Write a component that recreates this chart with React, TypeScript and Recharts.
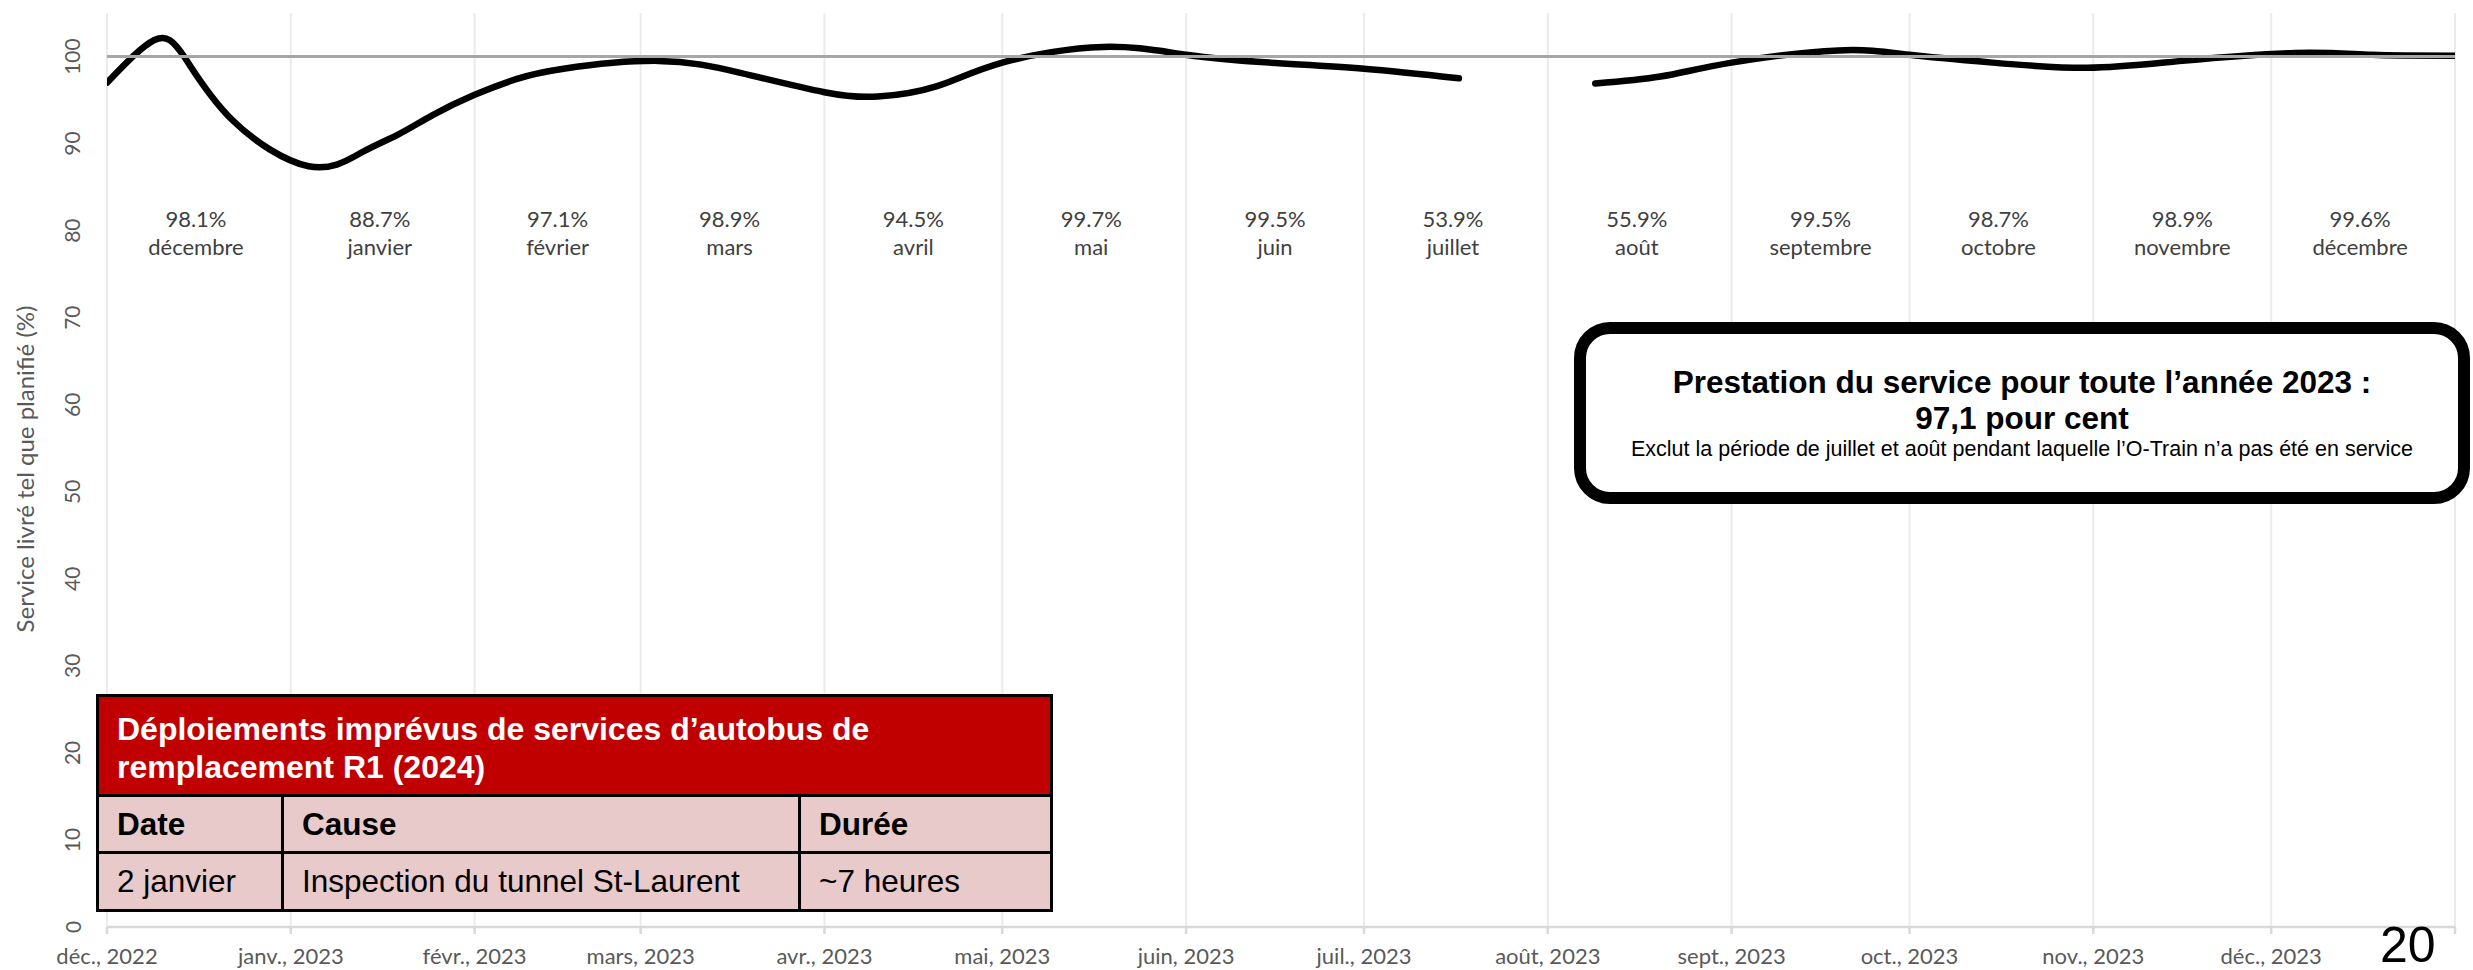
import React from 'react'
import {
  ComposedChart,
  Line,
  Scatter,
  XAxis,
  YAxis,
  CartesianGrid,
  ReferenceLine,
} from 'recharts'

const d = (s: string) => Date.parse(s + 'T00:00:00Z')

// service livré (%)
const lineDates = [
  '2022-12-01', '2022-12-09', '2022-12-14', '2022-12-22', '2023-01-04',
  '2023-01-13', '2023-01-19', '2023-01-25', '2023-02-01', '2023-02-08', '2023-02-16',
  '2023-03-04', '2023-03-18', '2023-04-01', '2023-04-10', '2023-04-20', '2023-05-01',
  '2023-05-18', '2023-06-01', '2023-06-15', '2023-07-01', '2023-07-17', '2023-07-28',
  '2023-08-09', '2023-08-20', '2023-09-01', '2023-09-19', '2023-10-01', '2023-10-15',
  '2023-10-31', '2023-11-16', '2023-12-05', '2023-12-18', '2024-01-01',
]
const lineValues: (number | null)[] = [
  97.0, 101.9, 100.0, 92.8, 87.4,
  89.0, 91.0, 93.3, 95.6, 97.4, 98.6,
  99.5, 98.1, 95.9, 95.4, 96.6, 99.3,
  101.1, 100.2, 99.3, 98.6, 97.5, null,
  96.9, 97.7, 99.3, 100.7, 100.2, 99.3,
  98.7, 99.5, 100.4, 100.2, 100.1,
]

// moyennes mensuelles (étiquettes)
const monthMid = [
  '2022-12-16', '2023-01-16', '2023-02-15', '2023-03-16', '2023-04-16', '2023-05-16',
  '2023-06-16', '2023-07-16', '2023-08-16', '2023-09-16', '2023-10-16', '2023-11-16',
  '2023-12-16',
]
const monthPct = ['98.1%', '88.7%', '97.1%', '98.9%', '94.5%', '99.7%', '99.5%', '53.9%', '55.9%', '99.5%', '98.7%', '98.9%', '99.6%']
const monthNames = ['décembre', 'janvier', 'février', 'mars', 'avril', 'mai', 'juin', 'juillet', 'août', 'septembre', 'octobre', 'novembre', 'décembre']

const tickDates = [
  '2022-12-01', '2023-01-01', '2023-02-01', '2023-03-01', '2023-04-01', '2023-05-01',
  '2023-06-01', '2023-07-01', '2023-08-01', '2023-09-01', '2023-10-01', '2023-11-01',
  '2023-12-01', '2024-01-01',
]
const tickLabels = [
  'déc., 2022', 'janv., 2023', 'févr., 2023', 'mars, 2023', 'avr., 2023', 'mai, 2023',
  'juin, 2023', 'juil., 2023', 'août, 2023', 'sept., 2023', 'oct., 2023', 'nov., 2023',
  'déc., 2023', '',
]
const yTicks = [0, 10, 20, 30, 40, 50, 60, 70, 80, 90, 100]

const LABEL_Y = 80
const lineData = lineDates.map((s, i) => ({ t: d(s), v: lineValues[i] }))
const labelData = monthMid.map((s, i) => ({ t: d(s), y: LABEL_Y, pct: monthPct[i], name: monthNames[i] }))
const tickTimes = tickDates.map(d)

const chartFont = 'Lato, "Open Sans", sans-serif'
const boxFont = '"Liberation Sans", Arial, sans-serif'

const XTick = (p: any) => {
  const i = tickTimes.indexOf(p.payload.value)
  return (
    <text x={p.x} y={955} textAnchor="middle" dominantBaseline="central" fill="#595959" fontSize={22} fontFamily={chartFont}>
      {tickLabels[i] ?? ''}
    </text>
  )
}

const YTick = (p: any) => (
  <text
    x={72}
    y={p.y}
    transform={`rotate(-90, 72, ${p.y})`}
    textAnchor="middle"
    dominantBaseline="central"
    fill="#595959"
    fontSize={21}
    fontFamily={chartFont}
  >
    {p.payload.value}
  </text>
)

const MonthLabel = (p: any) => (
  <g>
    <text x={p.cx} y={p.cy - 12} textAnchor="middle" dominantBaseline="central" fill="#404040" fontSize={22} fontFamily={chartFont}>
      {p.payload.pct}
    </text>
    <text x={p.cx} y={p.cy + 16} textAnchor="middle" dominantBaseline="central" fill="#404040" fontSize={22} fontFamily={chartFont}>
      {p.payload.name}
    </text>
  </g>
)

const cell = { border: '3px solid #000', padding: '0 0 0 18px', background: '#E8CACA', color: '#000', whiteSpace: 'nowrap' as const }

export default function App() {
  return (
    <div style={{ position: 'absolute', left: 0, top: 0, width: 2473, height: 970, background: '#fff', overflow: 'hidden' }}>
      <ComposedChart width={2473} height={970} data={lineData} margin={{ top: 13, right: 18, left: 0, bottom: 0 }}>
        <CartesianGrid horizontal={false} stroke="#EBEBEB" strokeWidth={2} />
        <XAxis
          dataKey="t"
          type="number"
          domain={[tickTimes[0], tickTimes[tickTimes.length - 1]]}
          ticks={tickTimes}
          height={43}
          stroke="#D9D9D9"
          strokeWidth={2.5}
          tickSize={7}
          tick={<XTick />}
          interval={0}
          allowDataOverflow
        />
        <YAxis
          type="number"
          domain={[0, 105]}
          ticks={yTicks}
          width={107}
          axisLine={false}
          tickLine={false}
          tick={<YTick />}
          interval={0}
        />
        <Line
          dataKey="v"
          type="natural"
          stroke="#000"
          strokeWidth={6.5}
          strokeLinecap="round"
          dot={false}
          activeDot={false}
          connectNulls={false}
          isAnimationActive={false}
        />
        <ReferenceLine y={100} stroke="#A6A6A6" strokeWidth={3} />
        <Scatter data={labelData} dataKey="y" shape={<MonthLabel />} isAnimationActive={false} />
      </ComposedChart>

      <div
        style={{
          position: 'absolute',
          left: 24,
          top: 469,
          transform: 'translate(-50%, -50%) rotate(-90deg)',
          whiteSpace: 'nowrap',
          fontFamily: chartFont,
          fontSize: 24,
          color: '#595959',
        }}
      >
        Service livré tel que planifié (%)
      </div>

      <table
        style={{
          position: 'absolute',
          left: 96,
          top: 694,
          width: 954,
          borderCollapse: 'collapse',
          tableLayout: 'fixed',
          fontFamily: boxFont,
          fontSize: 31.5,
        }}
      >
        <colgroup>
          <col style={{ width: 185 }} />
          <col style={{ width: 517 }} />
          <col style={{ width: 252 }} />
        </colgroup>
        <tbody>
          <tr>
            <td
              colSpan={3}
              style={{
                ...cell,
                height: 93,
                background: '#C00000',
                color: '#fff',
                fontWeight: 'bold',
                fontSize: 32,
                lineHeight: '38px',
                paddingTop: 4,
              }}
            >
              Déploiements imprévus de services d’autobus de
              <br />
              remplacement R1 (2024)
            </td>
          </tr>
          <tr style={{ height: 57 }}>
            <td style={{ ...cell, fontWeight: 'bold' }}>Date</td>
            <td style={{ ...cell, fontWeight: 'bold' }}>Cause</td>
            <td style={{ ...cell, fontWeight: 'bold' }}>Durée</td>
          </tr>
          <tr style={{ height: 58 }}>
            <td style={cell}>2 janvier</td>
            <td style={cell}>Inspection du tunnel St-Laurent</td>
            <td style={cell}>~7 heures</td>
          </tr>
        </tbody>
      </table>

      <div
        style={{
          position: 'absolute',
          left: 1574,
          top: 322,
          width: 896,
          height: 182,
          boxSizing: 'border-box',
          border: '12px solid #000',
          borderRadius: 36,
          background: '#fff',
          fontFamily: boxFont,
          color: '#000',
          textAlign: 'center',
        }}
      >
        <div style={{ position: 'absolute', left: 0, right: 0, top: 48 - 19, fontSize: 31.5, lineHeight: '38px', fontWeight: 'bold' }}>
          Prestation du service pour toute l’année 2023 :
        </div>
        <div style={{ position: 'absolute', left: 0, right: 0, top: 84 - 19, fontSize: 31.5, lineHeight: '38px', fontWeight: 'bold' }}>
          97,1 pour cent
        </div>
        <div style={{ position: 'absolute', left: 0, right: 0, top: 115 - 13, fontSize: 21.5, lineHeight: '26px', whiteSpace: 'nowrap' }}>
          Exclut la période de juillet et août pendant laquelle l’O-Train n’a pas été en service
        </div>
      </div>

      <div style={{ position: 'absolute', left: 2380, top: 925, fontFamily: boxFont, fontSize: 50, lineHeight: '40px', color: '#000' }}>
        20
      </div>
    </div>
  )
}
